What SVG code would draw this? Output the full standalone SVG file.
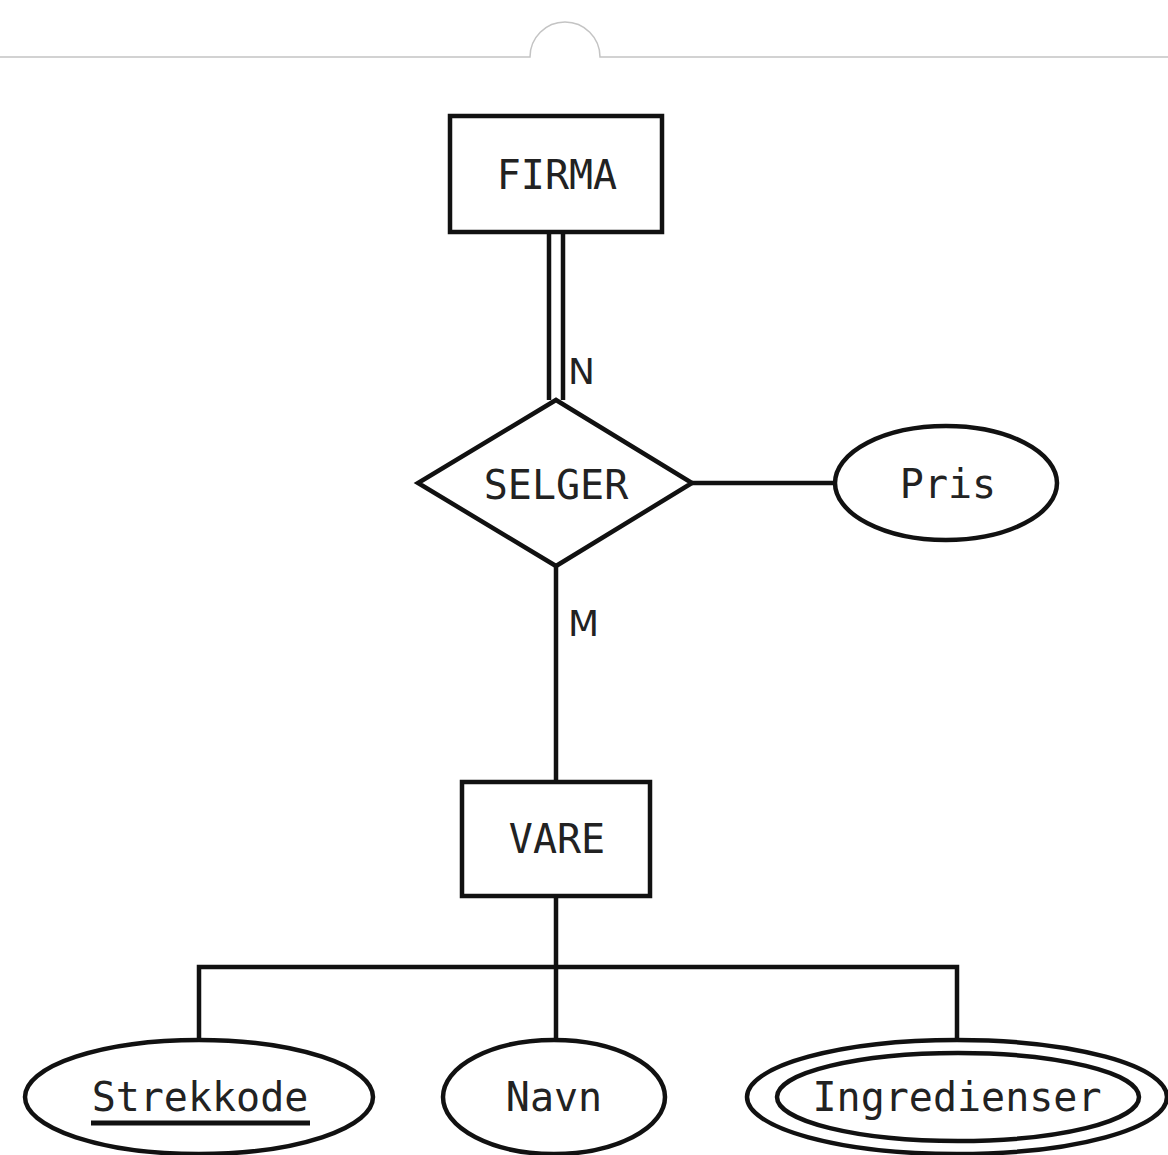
<svg xmlns="http://www.w3.org/2000/svg" width="1168" height="1155" viewBox="0 0 1168 1155">
<style>
.s{fill:#fff;stroke:#111;stroke-width:4.5}
.l{fill:none;stroke:#111;stroke-width:4.5}
.t{font-family:"DejaVu Sans Mono",monospace;font-size:40px;fill:#222;text-anchor:middle}
.c{font-family:"DejaVu Sans",sans-serif;font-size:36px;fill:#222}
</style>
<rect width="1168" height="1155" fill="#fff"/>
<path d="M0 57H530A35 35 0 0 1 600 57H1168" fill="none" stroke="#c4c4c4" stroke-width="1.5"/>
<g id="connectors">
<line class="l" x1="549" y1="232" x2="549" y2="400"/>
<line class="l" x1="563" y1="232" x2="563" y2="400"/>
<line class="l" x1="692" y1="483" x2="836" y2="483"/>
<line class="l" x1="556" y1="566" x2="556" y2="782"/>
<line class="l" x1="556" y1="896" x2="556" y2="1040"/>
<polyline class="l" points="199,1040 199,967 957,967 957,1040"/>
<text class="c" x="568" y="384">N</text>
<text class="c" x="568" y="636">M</text>
</g>
<g id="firma">
<rect class="s" x="450" y="116" width="212" height="116"/>
<text class="t" x="557" y="189">FIRMA</text>
</g>
<g id="selger">
<polygon class="s" points="556,400 692,483 556,566 418,483"/>
<text class="t" x="556" y="499">SELGER</text>
</g>
<g id="pris">
<ellipse class="s" cx="946" cy="483" rx="111" ry="57"/>
<text class="t" x="948" y="498">Pris</text>
</g>
<g id="vare">
<rect class="s" x="462" y="782" width="188" height="114"/>
<text class="t" x="557" y="853">VARE</text>
</g>
<g id="strekkode">
<ellipse class="s" cx="199" cy="1097" rx="174" ry="57"/>
<text class="t" x="200" y="1111">Strekkode</text>
<line x1="91" y1="1123" x2="310" y2="1123" stroke="#111" stroke-width="5"/>
</g>
<g id="navn">
<ellipse class="s" cx="554" cy="1097" rx="111" ry="57"/>
<text class="t" x="554" y="1111">Navn</text>
</g>
<g id="ingredienser">
<ellipse class="s" cx="957" cy="1097" rx="210" ry="57"/>
<ellipse class="s" cx="958" cy="1097" rx="181" ry="44"/>
<text class="t" x="957" y="1111">Ingredienser</text>
</g>
</svg>
